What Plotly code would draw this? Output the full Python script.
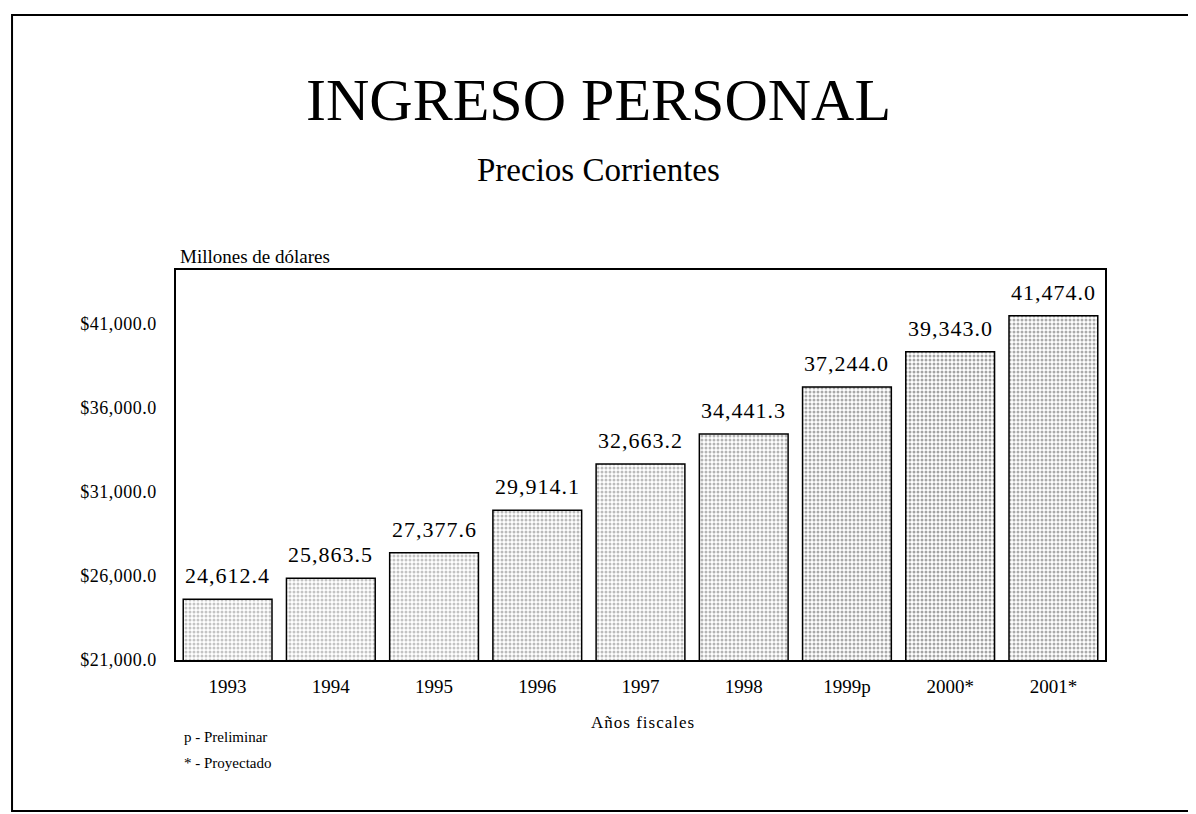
import plotly.graph_objects as go

# data
years = ["1993", "1994", "1995", "1996", "1997", "1998", "1999p", "2000*", "2001*"]
income = [24612.4, 25863.5, 27377.6, 29914.1, 32663.2, 34441.3, 37244.0, 39343.0, 41474.0]
y_ticks = [21000, 26000, 31000, 36000, 41000]
shade = ["#8a8a8a", "#8a8a8a", "#888888", "#777777", "#7a7a7a", "#6a6a6a", "#555555", "#4a4a4a", "#585858"]

serif = "Liberation Serif, Times New Roman, serif"


def spaced(s, px):
    return '<span style="letter-spacing:%spx">%s</span>' % (px, s)


fig = go.Figure()
fig.add_bar(
    x=years, y=income, base=0,
    marker=dict(
        color="white",
        line=dict(color="black", width=1.5),
        pattern=dict(shape=".", fgcolor=shade, bgcolor="white", size=4, solidity=0.45),
    ),
    width=0.86, hoverinfo="x+y",
)

# value labels above the bars (x given as category index, since "1993" etc.
# would otherwise be read as positions)
for i, v in enumerate(income):
    fig.add_annotation(x=i, y=v, text=spaced(f"{v:,.1f}", 1),
                       showarrow=False, yanchor="bottom", xanchor="center", yshift=9,
                       font=dict(family=serif, size=22, color="black"))

# outer frame around the whole page
fig.add_shape(type="rect", xref="paper", yref="paper",
              x0=-0.1765, x1=1.0937, y0=-0.387, y1=1.654,
              line=dict(color="black", width=2))

notes = dict(xref="paper", yref="paper", showarrow=False, yanchor="middle")
fig.add_annotation(text="INGRESO PERSONAL", x=0.455, y=1.436, xanchor="center",
                   font=dict(family=serif, size=60, color="black"), **notes)
fig.add_annotation(text="Precios Corrientes", x=0.455, y=1.256, xanchor="center",
                   font=dict(family=serif, size=33, color="black"), **notes)
fig.add_annotation(text="Millones de dólares", x=0.002, y=1.034, xanchor="left",
                   font=dict(family=serif, size=19, color="black"), **notes)
fig.add_annotation(text=spaced("Años fiscales", 1), x=0.503, y=-0.159, xanchor="center",
                   font=dict(family=serif, size=17, color="black"), **notes)
fig.add_annotation(text="p - Preliminar", x=0.006, y=-0.197, xanchor="left",
                   font=dict(family=serif, size=15, color="black"), **notes)
fig.add_annotation(text="* - Proyectado", x=0.006, y=-0.265, xanchor="left",
                   font=dict(family=serif, size=15, color="black"), **notes)

fig.update_layout(
    width=1196, height=814,
    margin=dict(l=168, r=99, t=262, b=162),
    paper_bgcolor="white", plot_bgcolor="white",
    showlegend=False,
    font=dict(family=serif, color="black"),
)
fig.update_xaxes(
    type="category",
    showline=True, linecolor="black", linewidth=1.5, mirror=True,
    showgrid=False, ticks="", ticklabelstandoff=8,
    tickfont=dict(family=serif, size=19, color="black"),
)
fig.update_yaxes(
    range=[21000, 44200], tickvals=y_ticks,
    ticktext=[spaced(f"${v:,.1f}", 0.5) for v in y_ticks],
    showline=True, linecolor="black", linewidth=1.5, mirror=True,
    showgrid=False, zeroline=False, ticks="", ticklabelstandoff=14,
    tickfont=dict(family=serif, size=18, color="black"),
)

fig.write_html("out.html")
